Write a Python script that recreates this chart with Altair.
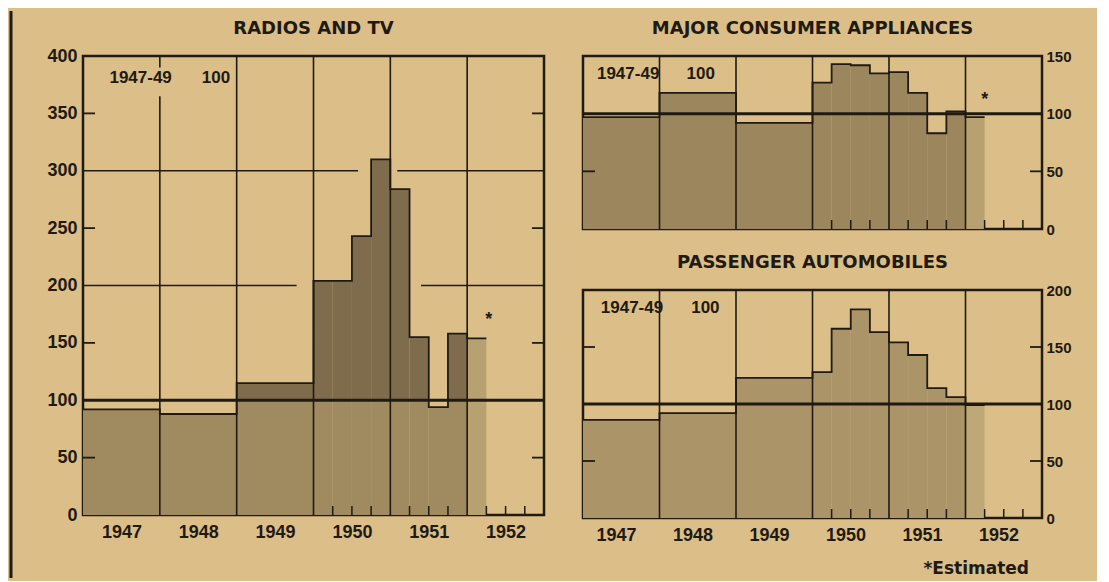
import altair as alt
import pandas as pd

# ---------------- data ----------------
period_start = [1947, 1948, 1949, 1950, 1950.25, 1950.5, 1950.75, 1951, 1951.25, 1951.5, 1951.75, 1952]
period_end = [1948, 1949, 1950, 1950.25, 1950.5, 1950.75, 1951, 1951.25, 1951.5, 1951.75, 1952, 1952.25]
estimated = [False, False, False, False, False, False, False, False, False, False, False, True]

radios_tv = [92, 88, 115, 204, 204, 243, 310, 284, 155, 94, 158, 154]
appliances = [97, 118, 92, 127, 143, 142, 135, 136, 118, 83, 102, 97]
automobiles = [86, 92, 123, 128, 166, 183, 163, 154, 143, 114, 106, 99]

year_labels = [1947, 1948, 1949, 1950, 1951, 1952]
year_lines = [1948, 1949, 1950, 1951, 1952]
quarter_ticks = [1950.25, 1950.5, 1950.75, 1951.25, 1951.5, 1951.75, 1952.25, 1952.5, 1952.75]

titles = ["RADIOS AND TV", "MAJOR CONSUMER APPLIANCES", "PASSENGER AUTOMOBILES"]
base_text = ["1947-49", "100"]
footnote = "*Estimated"

INK = "#1f1a12"
BG = "#dcbf88"
FONT = "Liberation Sans"
TFONT = "DejaVu Sans"


def panel(values, ymax, ystep, width, height, title, yorient, inner_ticks,
          c_low, c_high, c_est, text_pos, star_pos, show_x=True, label_off=0.5,
          hgrid=None, vgrid=None, extra=None):
    xs = alt.Scale(domain=[1947, 1953], nice=False, zero=False)
    ys = alt.Scale(domain=[0, ymax], nice=False, zero=True)

    df = pd.DataFrame({"start": period_start, "end": period_end,
                       "value": values, "est": estimated})
    df["low"] = df["value"].clip(upper=100)
    df["high"] = df["value"].clip(lower=100)

    if show_x:
        xaxis = alt.Axis(values=[y + label_off for y in year_labels],
                         labelExpr="floor(datum.value)",
                         ticks=False, domain=False, grid=False, labelPadding=8,
                         labelFont=FONT, labelFontWeight="bold", labelFontSize=18,
                         labelColor=INK, title=None)
    else:
        xaxis = alt.Axis(labels=False, ticks=False, domain=False, grid=False, title=None)
    yaxis = alt.Axis(orient=yorient, values=list(range(0, ymax + 1, ystep)),
                     ticks=False, domain=False, grid=False,
                     labelPadding=6 if yorient == "left" else 4,
                     labelFont=FONT, labelFontWeight="bold",
                     labelFontSize=18 if yorient == "left" else 15,
                     labelColor=INK, title=None)

    def X(f):
        return alt.X(f, type="quantitative", scale=xs, axis=xaxis, title=None)

    def Y(f):
        return alt.Y(f, type="quantitative", scale=ys, axis=yaxis, title=None)

    base = alt.Chart(df)
    layers = []

    low = base.transform_filter("!datum.est").mark_rect(color=c_low).encode(
        x=X("start"), x2="end", y=Y("low"), y2=alt.datum(0))
    layers.append(low)
    if hgrid:
        hg = pd.DataFrame(hgrid, columns=["y", "x1", "x2"])
        layers.append(alt.Chart(hg).mark_rule(color=INK, strokeWidth=1.6).encode(
            y=Y("y"), x=X("x1"), x2="x2"))
    high = base.transform_filter("!datum.est && datum.value > 100").mark_rect(color=c_high).encode(
        x=X("start"), x2="end", y=Y("high"), y2=alt.datum(100))
    est = base.transform_filter("datum.est").mark_rect(color=c_est).encode(
        x=X("start"), x2="end", y=Y("value"), y2=alt.datum(0))
    layers += [high, est]

    line_df = pd.DataFrame({"x": period_start + [period_end[-1]],
                            "v": values + [values[-1]], "o": list(range(len(values) + 1))})
    layers.append(alt.Chart(line_df).mark_line(interpolate="step-after", color=INK,
                                               strokeWidth=1.8).encode(
        x=X("x"), y=Y("v"), order="o"))

    vg = pd.DataFrame(vgrid if vgrid else [(x, 0, ymax) for x in year_lines],
                      columns=["x", "y1", "y2"])
    layers.append(alt.Chart(vg).mark_rule(color=INK, strokeWidth=1.6).encode(
        x=X("x"), y=Y("y1"), y2="y2"))

    layers.append(alt.Chart(pd.DataFrame({"y": [100]})).mark_rule(color=INK, strokeWidth=3).encode(
        y=Y("y"), x=alt.value(0), x2=alt.value(width)))

    it = pd.DataFrame({"y": inner_ticks})
    layers.append(alt.Chart(it).mark_rule(color=INK, strokeWidth=1.8).encode(
        y=Y("y"), x=alt.value(0), x2=alt.value(12)))
    layers.append(alt.Chart(it).mark_rule(color=INK, strokeWidth=1.8).encode(
        y=Y("y"), x=alt.value(width - 12), x2=alt.value(width)))

    qt = pd.DataFrame({"q": quarter_ticks})
    layers.append(alt.Chart(qt).mark_rule(color=INK, strokeWidth=1.5).encode(
        x=X("q"), y=alt.value(height), y2=alt.value(height - 9)))

    tdf = pd.DataFrame({"x": text_pos[0], "y": [text_pos[1]] * 2, "t": base_text})
    layers.append(alt.Chart(tdf).mark_text(font=FONT, fontWeight="bold", fontSize=17,
                                           color=INK, baseline="middle").encode(
        x=X("x"), y=Y("y"), text="t"))

    if star_pos:
        sdf = pd.DataFrame({"x": [star_pos[0]], "y": [star_pos[1]], "t": ["*"]})
        layers.append(alt.Chart(sdf).mark_text(font=FONT, fontWeight="bold", fontSize=18,
                                               color=INK, baseline="middle").encode(
            x=X("x"), y=Y("y"), text="t"))

    layers.append(alt.Chart(pd.DataFrame({"t": [title]})).mark_text(
        font=TFONT, fontWeight="bold", fontSize=18, color=INK, baseline="alphabetic",
        align="center").encode(x=alt.value(width / 2), y=alt.value(-22), text="t"))

    if extra:
        layers += extra

    return alt.layer(*layers).properties(width=width, height=height)


border = alt.Chart(pd.DataFrame({"a": [0]})).mark_rule(color=INK, strokeWidth=3).encode(
    x=alt.value(-72), y=alt.value(-45), y2=alt.value(522))

left = panel(radios_tv, 400, 50, 461, 459, titles[0], "left", [50, 150, 250, 350],
             "#a08a60", "#7f6c4d", "#b8a170",
             ([1947.75, 1948.73], 381), (1952.28, 170),
             hgrid=[(200, 1947, 1949.78), (200, 1951.4, 1953),
                    (300, 1947, 1950.58), (300, 1951.09, 1953)],
             vgrid=[(1948, 0, 365), (1948, 390, 400)] + [(x, 0, 400) for x in year_lines[1:]],
             extra=[border])

foot = alt.Chart(pd.DataFrame({"t": [footnote]})).mark_text(
    font=TFONT, fontWeight="bold", fontSize=17, color=INK, align="right",
    baseline="alphabetic").encode(x=alt.value(446), y=alt.value(284), text="t")

right_top = panel(appliances, 150, 50, 459, 173, titles[1], "right", [50],
                  "#9c865d", "#9c865d", "#b8a170",
                  ([1947.59, 1948.54], 134), (1952.25, 112), show_x=False)
right_bottom = panel(automobiles, 200, 50, 459, 228, titles[2], "right", [50, 150],
                     "#ab9468", "#ab9468", "#bfa878",
                     ([1947.64, 1948.6], 184), None, show_x=True, label_off=0.43,
                     extra=[foot])

right = alt.vconcat(right_top, right_bottom, spacing=61, bounds="flush")
chart = alt.hconcat(left, right, spacing=39, bounds="flush").properties(
    padding={"left": 0, "top": 0, "right": 24, "bottom": 0}
).configure(background=BG).configure_view(stroke=INK, strokeWidth=2.5)

chart.save("out.html", embed_options={"renderer": "svg", "actions": False})
